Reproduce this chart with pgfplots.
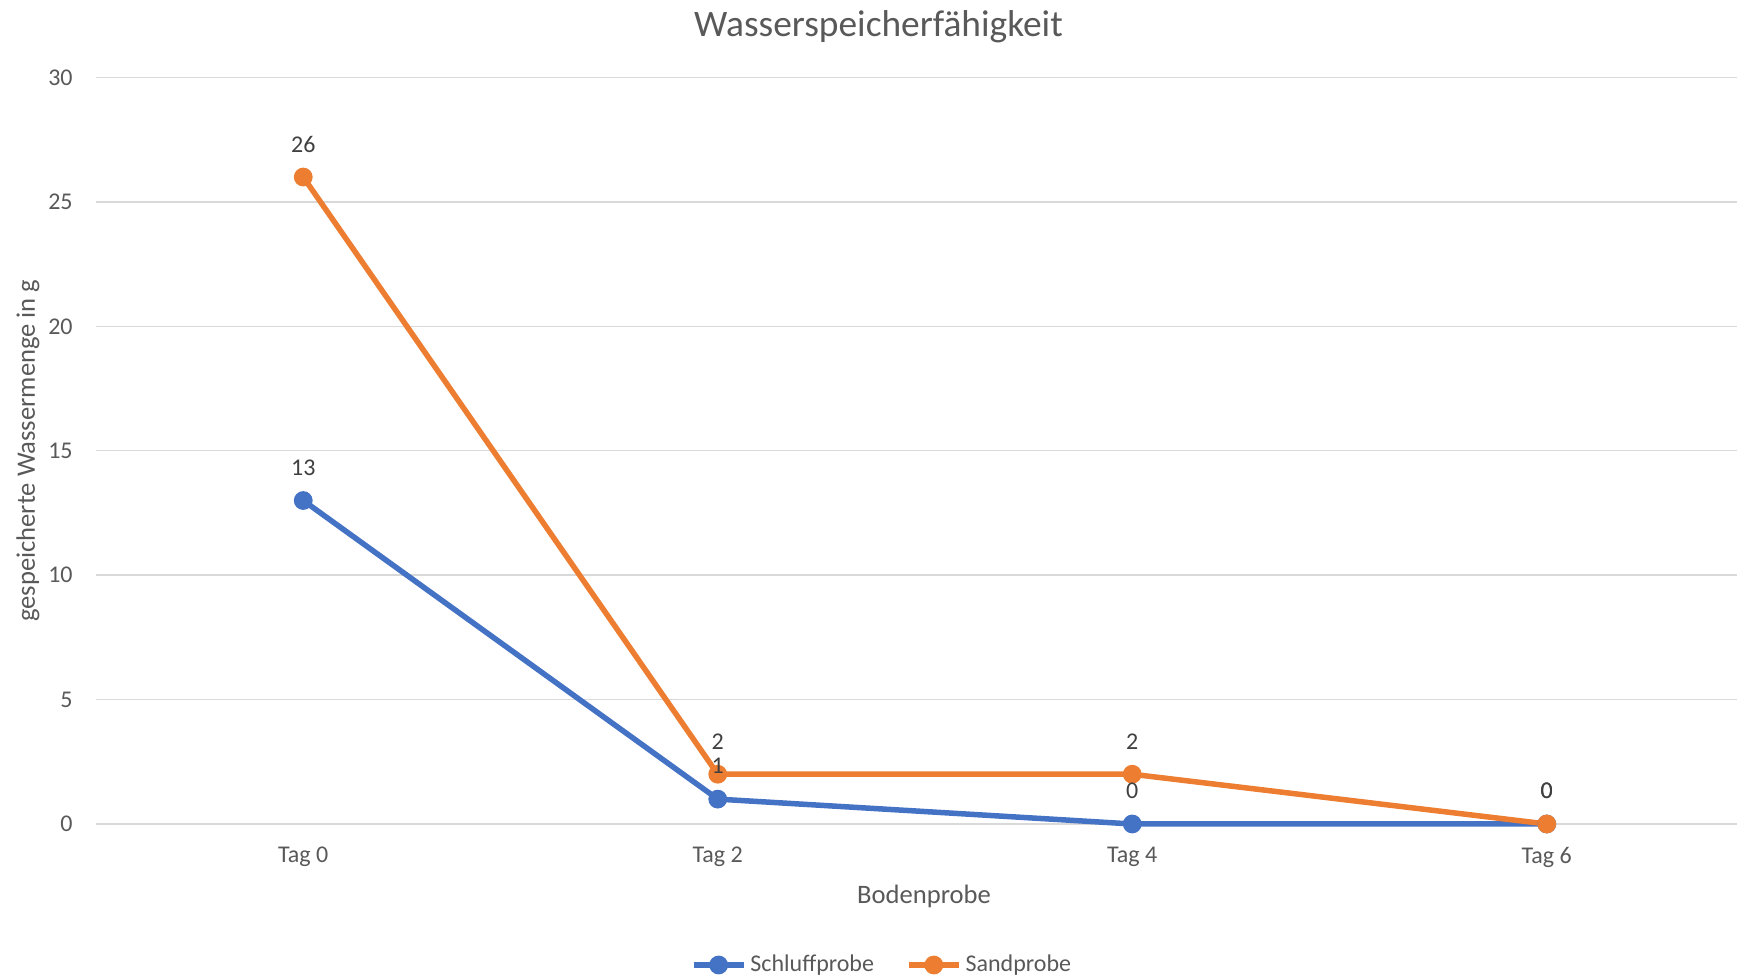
\documentclass[border=0pt]{standalone}
\usepackage{pgfplots}
\usepackage{pgfplotstable}
\pgfplotsset{compat=1.18}
\usepackage{fontspec}
\setmainfont{Carlito}
\definecolor{blueS}{HTML}{4472C4}
\definecolor{orangeS}{HTML}{ED7D31}
\definecolor{gridc}{HTML}{D9D9D9}
\definecolor{textc}{HTML}{595959}
\definecolor{labc}{HTML}{404040}
\pgfplotstableread{
x schluff sand
0 13 26
1 1 2
2 0 2
3 0 0
}\datatab
\begin{document}
\begin{tikzpicture}
\begin{axis}[
  name=ax,
  scale only axis,
  width=820.5pt, height=373.25pt,
  xmin=-0.5, xmax=3.459,
  ymin=0, ymax=30,
  xtick={0,1,2,3},
  xticklabels={Tag 0,Tag 2,Tag 4,Tag 6},
  ytick={0,5,10,15,20,25,30},
  ymajorgrids,
  grid style={draw=gridc, line width=0.7pt},
  axis line style={draw=none},
  major tick length=0pt,
  clip=false,
  /pgf/number format/assume math mode=true,
  tick label style={font=\fontsize{12}{14}\selectfont, text=textc},
  xticklabel style={anchor=center, yshift=-16.6pt, inner sep=0pt},
  yticklabel style={anchor=east, xshift=-11.5pt, inner sep=0pt},
  legend image code/.code={\draw[mark repeat=2, mark phase=2] plot coordinates {(0pt,0pt) (12.5pt,0pt) (25pt,0pt)};},
  legend style={at={(rel axis cs:0.4796,-0.1889)}, anchor=center, draw=none, fill=none,
    font=\fontsize{12}{14}\selectfont, text=textc, legend columns=2,
    /tikz/every even column/.append style={column sep=14pt},
    /tikz/every odd column/.append style={column sep=0pt}},
  legend cell align=left,
]
\addplot[blueS, line width=2.75pt, mark=*, mark size=3.3pt, mark options={solid, fill=blueS, draw=blueS}] table[x=x, y=schluff] {\datatab};
\addlegendentry{Schluffprobe}
\addplot[orangeS, line width=2.75pt, mark=*, mark size=3.3pt, mark options={solid, fill=orangeS, draw=orangeS}] table[x=x, y=sand] {\datatab};
\addlegendentry{Sandprobe}
\addplot[draw=none, mark=none, forget plot, nodes near coords,
  every node near coord/.style={anchor=center, yshift=16.5pt, font=\fontsize{12}{14}\selectfont, text=labc},
  nodes near coords={\pgfmathprintnumber[assume math mode=true]{\pgfplotspointmeta}}] table[x=x, y=schluff] {\datatab};
\addplot[draw=none, mark=none, forget plot, nodes near coords,
  every node near coord/.style={anchor=center, yshift=16.5pt, font=\fontsize{12}{14}\selectfont, text=labc},
  nodes near coords={\pgfmathprintnumber[assume math mode=true]{\pgfplotspointmeta}}] table[x=x, y=sand] {\datatab};
\node[font=\fontsize{18.7}{22}\selectfont, text=textc] at (rel axis cs:0.4768,1) [yshift=25.5pt] {Wasserspeicherfähigkeit};
\node[font=\fontsize{13.3}{16}\selectfont, text=textc] at (rel axis cs:0.5046,0) [yshift=-36.1pt] {Bodenprobe};
\path (rel axis cs:0,0.5) ++(-34pt,0pt) node[font=\fontsize{13.3}{16}\selectfont, text=textc, rotate=90] {gespeicherte Wassermenge in g};
\end{axis}
\pgfresetboundingbox
\path[use as bounding box] ([xshift=-48pt,yshift=-77.5pt]ax.south west) rectangle ([yshift=38.75pt]ax.north east);
\end{tikzpicture}
\end{document}
